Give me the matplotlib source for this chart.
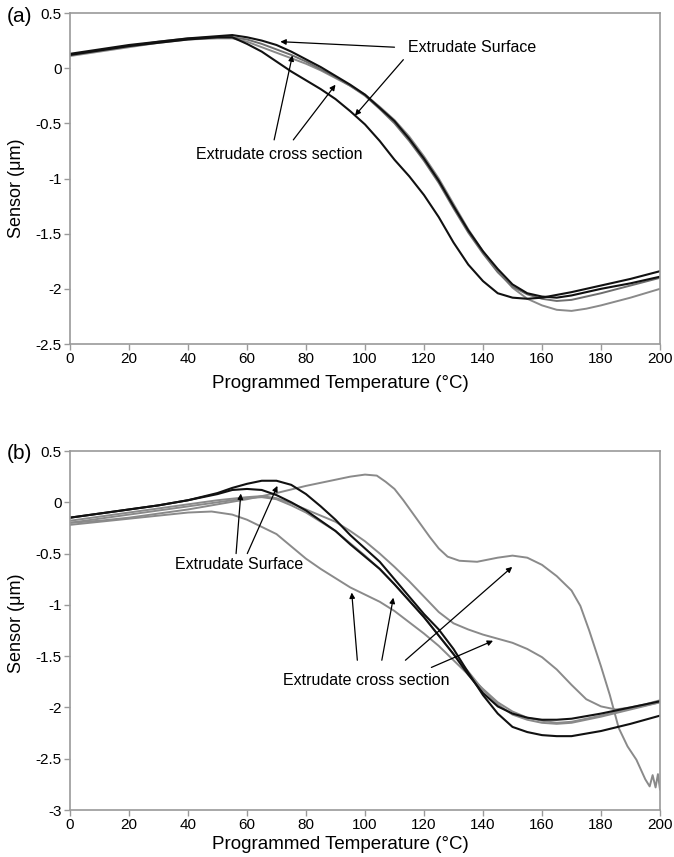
import matplotlib
matplotlib.use("Agg")
import matplotlib.pyplot as plt
import numpy as np

plt.rcParams['font.family'] = ['Liberation Sans', 'DejaVu Sans']

# ---------------- Panel (a) data ----------------
a_black1_T = [0, 10, 20, 30, 40, 50, 55, 60, 65, 70, 75, 80, 85, 90, 95, 100, 105, 110, 115, 120, 125, 130, 135, 140, 145, 150, 155, 160, 170, 180, 190, 200]
a_black1_v = [0.12, 0.16, 0.20, 0.23, 0.26, 0.28, 0.28, 0.22, 0.15, 0.06, -0.03, -0.11, -0.19, -0.28, -0.39, -0.51, -0.66, -0.83, -0.98, -1.15, -1.35, -1.58, -1.78, -1.93, -2.04, -2.08, -2.09, -2.08, -2.03, -1.97, -1.91, -1.84]

a_black2_T = [0, 10, 20, 30, 40, 50, 55, 60, 65, 70, 75, 80, 85, 90, 95, 100, 105, 110, 115, 120, 125, 130, 135, 140, 145, 150, 155, 160, 165, 170, 180, 190, 200]
a_black2_v = [0.13, 0.17, 0.21, 0.24, 0.27, 0.29, 0.30, 0.28, 0.25, 0.21, 0.15, 0.08, 0.01, -0.07, -0.15, -0.24, -0.36, -0.48, -0.64, -0.82, -1.02, -1.25, -1.47, -1.66, -1.82, -1.96, -2.04, -2.07, -2.08, -2.06, -2.00, -1.95, -1.89]

a_gray1_T = [0, 10, 20, 30, 40, 50, 55, 60, 65, 70, 75, 80, 85, 90, 95, 100, 105, 110, 115, 120, 125, 130, 135, 140, 145, 150, 155, 160, 165, 170, 175, 180, 190, 200]
a_gray1_v = [0.11, 0.15, 0.19, 0.23, 0.26, 0.27, 0.27, 0.24, 0.19, 0.14, 0.09, 0.04, -0.02, -0.09, -0.16, -0.24, -0.35, -0.47, -0.62, -0.80, -1.00, -1.23, -1.46, -1.66, -1.84, -1.99, -2.09, -2.15, -2.19, -2.20, -2.18, -2.15, -2.08, -2.00]

a_gray2_T = [0, 10, 20, 30, 40, 50, 55, 60, 65, 70, 75, 80, 85, 90, 95, 100, 105, 110, 115, 120, 125, 130, 135, 140, 145, 150, 155, 160, 165, 170, 180, 190, 200]
a_gray2_v = [0.12, 0.16, 0.20, 0.24, 0.27, 0.28, 0.28, 0.26, 0.22, 0.17, 0.12, 0.06, -0.01, -0.08, -0.16, -0.25, -0.37, -0.50, -0.66, -0.84, -1.04, -1.27, -1.49, -1.68, -1.85, -1.98, -2.05, -2.09, -2.11, -2.10, -2.04, -1.97, -1.90]

# ---------------- Panel (b) data ----------------
b_black1_T = [0, 10, 20, 30, 40, 50, 55, 60, 65, 70, 75, 80, 85, 90, 95, 100, 105, 110, 115, 120, 125, 130, 135, 140, 145, 150, 155, 160, 165, 170, 180, 190, 200]
b_black1_v = [-0.15, -0.11, -0.07, -0.03, 0.02, 0.09, 0.14, 0.18, 0.21, 0.21, 0.17, 0.08, -0.04, -0.17, -0.32, -0.45, -0.58, -0.75, -0.92, -1.09, -1.24, -1.43, -1.66, -1.88, -2.06, -2.19, -2.24, -2.27, -2.28, -2.28, -2.23, -2.16, -2.08]

b_black2_T = [0, 10, 20, 30, 40, 50, 55, 60, 65, 70, 75, 80, 85, 90, 95, 100, 105, 110, 115, 120, 125, 130, 135, 140, 145, 150, 155, 160, 165, 170, 180, 190, 200]
b_black2_v = [-0.15, -0.11, -0.07, -0.03, 0.02, 0.08, 0.12, 0.13, 0.12, 0.07, 0.00, -0.08, -0.18, -0.28, -0.41, -0.53, -0.65, -0.80, -0.96, -1.12, -1.30, -1.48, -1.68, -1.86, -1.99, -2.06, -2.10, -2.12, -2.12, -2.11, -2.06, -2.00, -1.94]

b_bump_T = [0, 10, 20, 30, 40, 50, 60, 70, 80, 90, 95, 100, 104, 107, 110, 113, 116, 119, 122, 125, 128, 132, 138, 145, 150, 155, 160, 165, 170, 173, 176, 180, 183, 186, 189, 192, 195, 196.5, 197.5, 198.5, 199.3, 200]
b_bump_v = [-0.20, -0.18, -0.15, -0.11, -0.07, -0.02, 0.03, 0.09, 0.16, 0.22, 0.25, 0.27, 0.26, 0.20, 0.13, 0.02, -0.10, -0.22, -0.34, -0.45, -0.53, -0.57, -0.58, -0.54, -0.52, -0.54, -0.61, -0.72, -0.86, -1.01, -1.25, -1.60, -1.88, -2.20, -2.38, -2.51, -2.70, -2.77, -2.66, -2.78, -2.65, -2.80]

b_shoulder_T = [0, 10, 20, 30, 40, 50, 60, 65, 70, 75, 80, 85, 90, 95, 100, 105, 110, 115, 120, 125, 130, 135, 140, 145, 150, 155, 160, 165, 170, 175, 180, 185, 190, 195, 200]
b_shoulder_v = [-0.18, -0.14, -0.10, -0.06, -0.02, 0.02, 0.05, 0.06, 0.04, -0.01, -0.07, -0.13, -0.19, -0.28, -0.38, -0.50, -0.63, -0.77, -0.92, -1.07, -1.18, -1.24, -1.29, -1.33, -1.37, -1.43, -1.51, -1.63, -1.78, -1.92, -1.99, -2.02, -2.00, -1.97, -1.93]

b_gray_mid_T = [0, 10, 20, 30, 40, 50, 60, 65, 70, 75, 80, 85, 90, 95, 100, 105, 110, 115, 120, 125, 130, 135, 140, 145, 150, 155, 160, 165, 170, 180, 190, 200]
b_gray_mid_v = [-0.20, -0.16, -0.12, -0.08, -0.04, 0.00, 0.04, 0.05, 0.03, -0.03, -0.10, -0.19, -0.28, -0.40, -0.52, -0.65, -0.80, -0.96, -1.12, -1.30, -1.48, -1.65, -1.83, -1.97, -2.07, -2.12, -2.15, -2.16, -2.15, -2.09, -2.02, -1.95]

b_gray_low_T = [0, 10, 20, 30, 40, 48, 55, 60, 65, 70, 75, 80, 85, 90, 95, 100, 105, 110, 115, 120, 125, 130, 135, 140, 145, 150, 155, 160, 165, 170, 180, 190, 200]
b_gray_low_v = [-0.22, -0.19, -0.16, -0.13, -0.10, -0.09, -0.12, -0.17, -0.24, -0.31, -0.43, -0.55, -0.65, -0.74, -0.83, -0.90, -0.97, -1.06, -1.17, -1.28, -1.40, -1.54, -1.68, -1.82, -1.95, -2.04, -2.10, -2.13, -2.15, -2.14, -2.08, -2.01, -1.95]

x_ticks = [0, 20, 40, 60, 80, 100, 120, 140, 160, 180, 200]
a_yticks = [0.5, 0, -0.5, -1, -1.5, -2, -2.5]
b_yticks = [0.5, 0, -0.5, -1, -1.5, -2, -2.5, -3]
xlabel = "Programmed Temperature (°C)"
ylabel = "Sensor (μm)"

BLACK = "#111111"
GRAY = "#8a8a8a"
MIDGRAY = "#6e6e6e"
SPINE = "#9a9a9a"

fig = plt.figure(figsize=(6.74, 8.57), dpi=100)
axA = fig.add_axes([70/674, 1-344/857, 590/674, 331/857])
axB = fig.add_axes([70/674, 1-810/857, 590/674, 359/857])


def fmt(v):
    return '%g' % v


def style(ax, yticks, ylim, ylab_y, xlab_y):
    ax.set_xlim(0, 200)
    ax.set_ylim(*ylim)
    ax.set_xticks(x_ticks)
    ax.set_xticklabels([fmt(t) for t in x_ticks])
    ax.set_yticks(yticks)
    ax.set_yticklabels([fmt(t) for t in yticks])
    for sp in ax.spines.values():
        sp.set_color(SPINE)
        sp.set_linewidth(1.2)
    ax.tick_params(direction='out', length=4, width=1.0, color=SPINE,
                   labelsize=11, labelcolor='black', pad=2)
    ax.set_xlabel(xlabel, fontsize=13.5)
    ax.set_ylabel(ylabel, fontsize=13)
    ax.xaxis.set_label_coords(0.458, xlab_y)
    ax.yaxis.set_label_coords(-0.076, ylab_y)


# Panel (a)
axA.plot(a_gray1_T, a_gray1_v, color=GRAY, lw=1.4)
axA.plot(a_gray2_T, a_gray2_v, color=MIDGRAY, lw=1.4)
axA.plot(a_black2_T, a_black2_v, color=BLACK, lw=1.5)
axA.plot(a_black1_T, a_black1_v, color=BLACK, lw=1.5)
style(axA, a_yticks, (-2.5, 0.5), 0.47, -0.095)

arrow_kw = dict(arrowstyle='-|>', color='black', lw=0.9, mutation_scale=8, shrinkA=0, shrinkB=0)
axA.text(114.5, 0.19, "Extrudate Surface", fontsize=11.5, va='center', ha='left')
axA.annotate('', xy=(71.3, 0.24), xytext=(110, 0.19), arrowprops=arrow_kw)
axA.annotate('', xy=(96.6, -0.43), xytext=(113, 0.077), arrowprops=arrow_kw)
axA.text(42.8, -0.78, "Extrudate cross section", fontsize=11.5, va='center', ha='left')
axA.annotate('', xy=(75.4, 0.116), xytext=(69.2, -0.65), arrowprops=arrow_kw)
axA.annotate('', xy=(90.0, -0.15), xytext=(75.7, -0.65), arrowprops=arrow_kw)

# Panel (b)
axB.plot(b_bump_T, b_bump_v, color=GRAY, lw=1.4)
axB.plot(b_shoulder_T, b_shoulder_v, color=GRAY, lw=1.4)
axB.plot(b_gray_low_T, b_gray_low_v, color=GRAY, lw=1.4)
axB.plot(b_gray_mid_T, b_gray_mid_v, color=GRAY, lw=1.4)
axB.plot(b_black2_T, b_black2_v, color=BLACK, lw=1.5)
axB.plot(b_black1_T, b_black1_v, color=BLACK, lw=1.5)
style(axB, b_yticks, (-3, 0.5), 0.52, -0.072)

axB.text(35.6, -0.61, "Extrudate Surface", fontsize=11.5, va='center', ha='left')
axB.annotate('', xy=(57.9, 0.085), xytext=(56.3, -0.5), arrowprops=arrow_kw)
axB.annotate('', xy=(70.3, 0.16), xytext=(60.1, -0.5), arrowprops=arrow_kw)
axB.text(72.1, -1.74, "Extrudate cross section", fontsize=11.5, va='center', ha='left')
axB.annotate('', xy=(95.5, -0.88), xytext=(97.4, -1.54), arrowprops=arrow_kw)
axB.annotate('', xy=(109.6, -0.93), xytext=(105.7, -1.54), arrowprops=arrow_kw)
axB.annotate('', xy=(149.9, -0.63), xytext=(113.7, -1.54), arrowprops=arrow_kw)
axB.annotate('', xy=(143.4, -1.35), xytext=(122.5, -1.61), arrowprops=arrow_kw)

fig.text(7/674, 1-17/857, "(a)", fontsize=15, va='center', ha='left')
fig.text(7/674, 1-453/857, "(b)", fontsize=15, va='center', ha='left')

fig.savefig("out.png", dpi=100)
